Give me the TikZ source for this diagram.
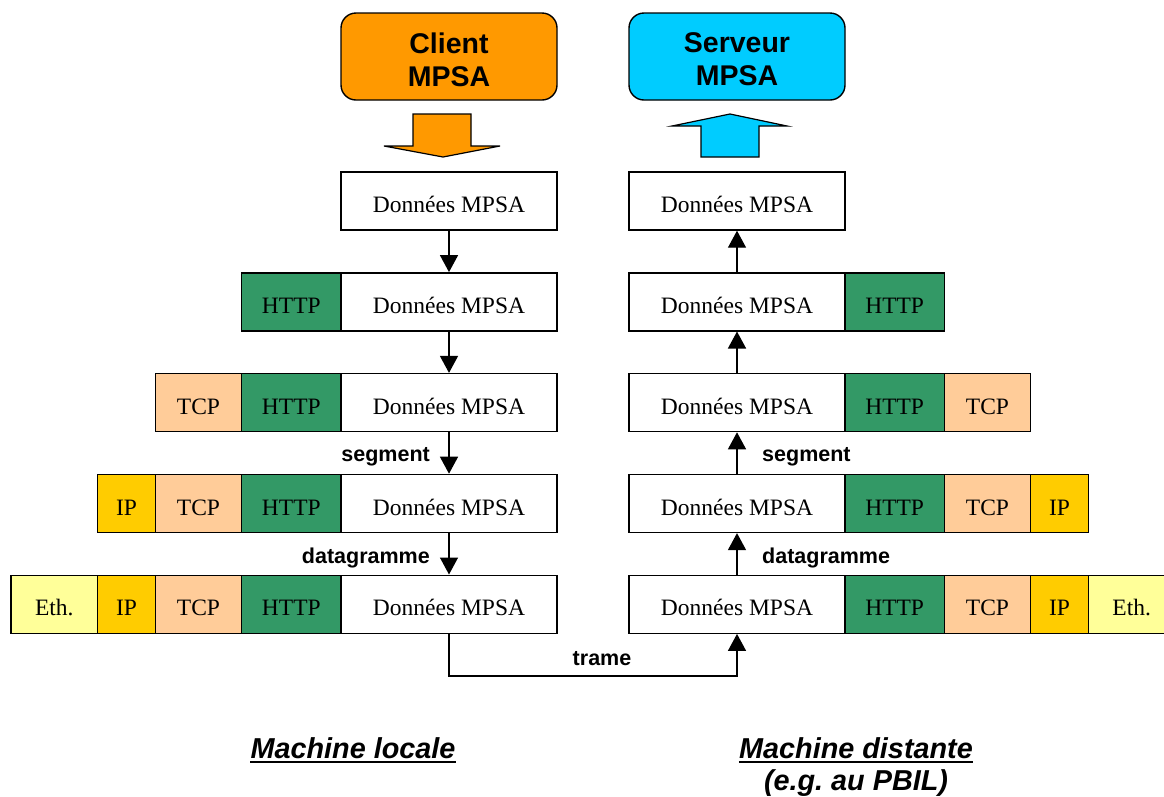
\documentclass[tikz,border=0pt]{standalone}
\usepackage{fontspec}
\setmainfont{Liberation Serif}
\setsansfont{Liberation Sans}
\usetikzlibrary{arrows.meta}
\definecolor{clientorange}{HTML}{FF9900}
\definecolor{servercyan}{HTML}{00CCFF}
\definecolor{httpgreen}{HTML}{339966}
\definecolor{tcppeach}{HTML}{FFCC99}
\definecolor{ipgold}{HTML}{FFCC00}
\definecolor{ethyellow}{HTML}{FFFF99}
\frenchspacing

\begin{document}
\begin{tikzpicture}[x=1pt,y=-1pt,
  cell/.style={draw=black, line width=1.4pt, minimum height=58pt, inner sep=0pt,
    text height=23.5pt, text depth=0pt, font=\fontsize{23.5}{28}\selectfont},
  datacell/.style={cell, fill=white, minimum width=216pt},
  httpcell/.style={cell, fill=httpgreen, minimum width=99.3pt},
  tcpcell/.style={cell, fill=tcppeach, minimum width=86.4pt},
  ipcell/.style={cell, fill=ipgold, minimum width=57.6pt},
  ethcell/.style={cell, fill=ethyellow, minimum width=86.7pt},
  flow/.style={line width=1.4pt, -{Triangle[width=18pt,length=17pt]}},
  lbl/.style={font=\sffamily\bfseries\fontsize{21.5}{26}\selectfont, inner sep=0pt},
  appbox/.style={draw=black, line width=1.4pt, rounded corners=15pt,
    minimum width=216pt, minimum height=87pt, inner sep=0pt},
  apptext/.style={font=\sffamily\bfseries\fontsize{28.5}{33}\selectfont,
    align=center, inner sep=0pt},
  machine/.style={font=\sffamily\bfseries\itshape\fontsize{28.8}{33}\selectfont,
    inner sep=0pt, anchor=base},
  bigarrow/.style={draw=black, line width=1.2pt, line join=miter}
]
\clip (0,0) rectangle (1164,796);

% applications
\node[appbox, fill=clientorange] (client) at (449,56.5) {};
\node[apptext] (clienttxt) at (449,59.5) {Client\\MPSA};
\node[appbox, fill=servercyan] (serveur) at (737,56.5) {};
\node[apptext] (serveurtxt) at (737,59.5) {Serveur\\MPSA};

% block arrows between application and stack
\path[bigarrow, fill=clientorange]
  (413,114) -- (471,114) -- (471,146) -- (500,146) -- (443,157)
  -- (384,146) -- (413,146) -- cycle;
\path[bigarrow, fill=servercyan]
  (701,157) -- (759,157) -- (759,126) -- (787,126) -- (730,114)
  -- (672,126) -- (701,126) -- cycle;

% local machine: encapsulation
\node[datacell] (ld1) at (449,201) {Données MPSA};

\node[datacell] (ld2) at (449,301.8) {Données MPSA};
\node[httpcell] (lh2) at (291.35,301.8) {HTTP};

\node[datacell] (ld3) at (449,402.6) {Données MPSA};
\node[httpcell] (lh3) at (291.35,402.6) {HTTP};
\node[tcpcell]  (lt3) at (198.5,402.6) {TCP};

\node[datacell] (ld4) at (449,503.4) {Données MPSA};
\node[httpcell] (lh4) at (291.35,503.4) {HTTP};
\node[tcpcell]  (lt4) at (198.5,503.4) {TCP};
\node[ipcell]   (li4) at (126.5,503.4) {IP};

\node[datacell] (ld5) at (449,604.2) {Données MPSA};
\node[httpcell] (lh5) at (291.35,604.2) {HTTP};
\node[tcpcell]  (lt5) at (198.5,604.2) {TCP};
\node[ipcell]   (li5) at (126.5,604.2) {IP};
\node[ethcell]  (le5) at (54.35,604.2) {Eth.};

% remote machine: decapsulation
\node[datacell] (rd1) at (737,201) {Données MPSA};

\node[datacell] (rd2) at (737,301.8) {Données MPSA};
\node[httpcell] (rh2) at (894.65,301.8) {HTTP};

\node[datacell] (rd3) at (737,402.6) {Données MPSA};
\node[httpcell] (rh3) at (894.65,402.6) {HTTP};
\node[tcpcell]  (rt3) at (987.5,402.6) {TCP};

\node[datacell] (rd4) at (737,503.4) {Données MPSA};
\node[httpcell] (rh4) at (894.65,503.4) {HTTP};
\node[tcpcell]  (rt4) at (987.5,503.4) {TCP};
\node[ipcell]   (ri4) at (1059.5,503.4) {IP};

\node[datacell] (rd5) at (737,604.2) {Données MPSA};
\node[httpcell] (rh5) at (894.65,604.2) {HTTP};
\node[tcpcell]  (rt5) at (987.5,604.2) {TCP};
\node[ipcell]   (ri5) at (1059.5,604.2) {IP};
\node[ethcell]  (re5) at (1131.65,604.2) {Eth.};

% flow down the local stack
\draw[flow] (ld1.south) -- (ld2.north);
\draw[flow] (ld2.south) -- (ld3.north);
\draw[flow] (ld3.south) -- (ld4.north);
\draw[flow] (ld4.south) -- (ld5.north);

% flow up the remote stack
\draw[flow] (rd2.north) -- (rd1.south);
\draw[flow] (rd3.north) -- (rd2.south);
\draw[flow] (rd4.north) -- (rd3.south);
\draw[flow] (rd5.north) -- (rd4.south);

% the frame crosses the network
\coordinate (wire) at (449,676);
\draw[flow] (ld5.south) -- (wire) -| (rd5.south);

% unit names
\node[lbl, anchor=east] (lseg) at (430,457) {segment};
\node[lbl, anchor=east] (ldgm) at (430,558) {datagramme};
\node[lbl, anchor=west] (rseg) at (762,457) {segment};
\node[lbl, anchor=west] (rdgm) at (762,558) {datagramme};
\node[lbl] (trame) at (602,658.5) {trame};

% machine captions
\node[machine] (local) at (353,758) {Machine locale};
\draw[line width=2pt] ([yshift=-4pt]local.base west) -- ([yshift=-4pt]local.base east);
\node[machine] (distante) at (856,758) {Machine distante};
\draw[line width=2pt] ([yshift=-4pt]distante.base west) -- ([yshift=-4pt]distante.base east);
\node[machine] (pbil) at (856,790) {(e.g. au PBIL)};
\end{tikzpicture}
\end{document}
